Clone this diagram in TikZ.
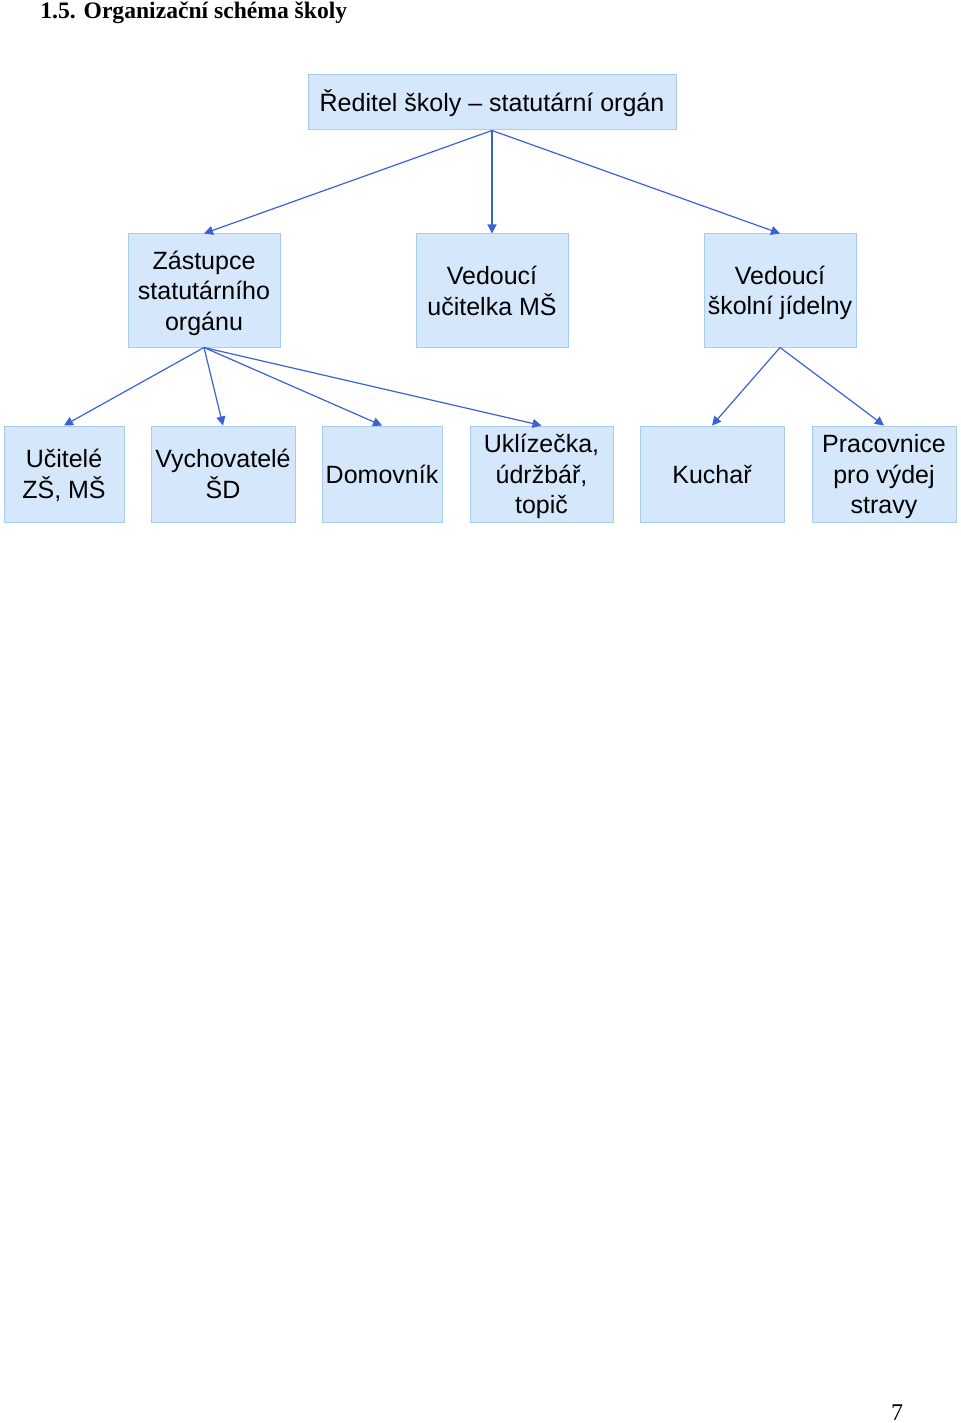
\documentclass[tikz,border=0pt]{standalone}
\usepackage{fontspec}
\setmainfont{Liberation Serif}
\newfontfamily\arialfont{Liberation Sans}
\usetikzlibrary{arrows.meta}

\definecolor{boxFill}{RGB}{213,232,251}
\definecolor{boxLine}{RGB}{168,204,240}
\definecolor{arrBlue}{RGB}{58,98,214}

% text a little lower in its box
\newcommand{\boxText}[1]{\raisebox{-1.5pt}[\height][\depth]{\begin{tabular}{@{}c@{}}#1\end{tabular}}}

\begin{document}
\begin{tikzpicture}[x=0.5pt, y=-0.5pt, inner sep=0pt]
  \useasboundingbox (0,0) rectangle (960,1423);

  \tikzstyle{myBox}=[draw=boxLine, fill=boxFill, line width=0.5pt,
    font=\arialfont\fontsize{12.5}{15.25}\selectfont];
  \tikzstyle{myArr}=[draw=arrBlue, line width=0.6pt, -{Triangle[width=4.5pt,length=4.5pt]}];

  \node[anchor=base west, font=\bfseries\fontsize{11.8}{14}\selectfont] (title) at (40,19) {1.5. Organizační schéma školy};

  % vedeni
  \node[myBox, minimum width=184pt, minimum height=27.5pt] (red) at (492,102.5) {\boxText{Ředitel školy – statutární orgán}};
  \node[myBox, minimum width=76pt, minimum height=56.5pt] (zast) at (204,290.5) {\boxText{Zástupce\\statutárního\\orgánu}};
  \node[myBox, minimum width=76pt, minimum height=56.5pt] (vedMS) at (492,290.5) {\boxText{Vedoucí\\učitelka MŠ}};
  \node[myBox, minimum width=76pt, minimum height=56.5pt] (vedSJ) at (780,290.5) {\boxText{Vedoucí\\školní jídelny}};

  % zamestnanci
  \node[myBox, minimum width=60pt, minimum height=48pt] (ucit) at (64,474) {\boxText{Učitelé\\ZŠ, MŠ}};
  \node[myBox, minimum width=72pt, minimum height=48pt] (vych) at (223,474) {\boxText{Vychovatelé\\ŠD}};
  \node[myBox, minimum width=60pt, minimum height=48pt] (dom) at (382,474) {\boxText{Domovník}};
  \node[myBox, minimum width=71.5pt, minimum height=48pt] (ukl) at (541.5,474) {\boxText{Uklízečka,\\údržbář,\\topič}};
  \node[myBox, minimum width=72pt, minimum height=48pt] (kuch) at (712,474) {\boxText{Kuchař}};
  \node[myBox, minimum width=72pt, minimum height=48pt] (prac) at (884,474) {\boxText{Pracovnice\\pro výdej\\stravy}};

  \draw[myArr] (red.south) -- (zast.north);
  \draw[myArr] (red.south) -- (vedMS.north);
  \draw[myArr] (red.south) -- (vedSJ.north);
  \draw[myArr] (zast.south) -- (ucit.north);
  \draw[myArr] (zast.south) -- (vych.north);
  \draw[myArr] (zast.south) -- (dom.north);
  \draw[myArr] (zast.south) -- (ukl.north);
  \draw[myArr] (vedSJ.south) -- (kuch.north);
  \draw[myArr] (vedSJ.south) -- (prac.north);

  \node[anchor=base, font=\fontsize{12}{14}\selectfont] (pageNo) at (897,1420) {7};
\end{tikzpicture}
\end{document}
